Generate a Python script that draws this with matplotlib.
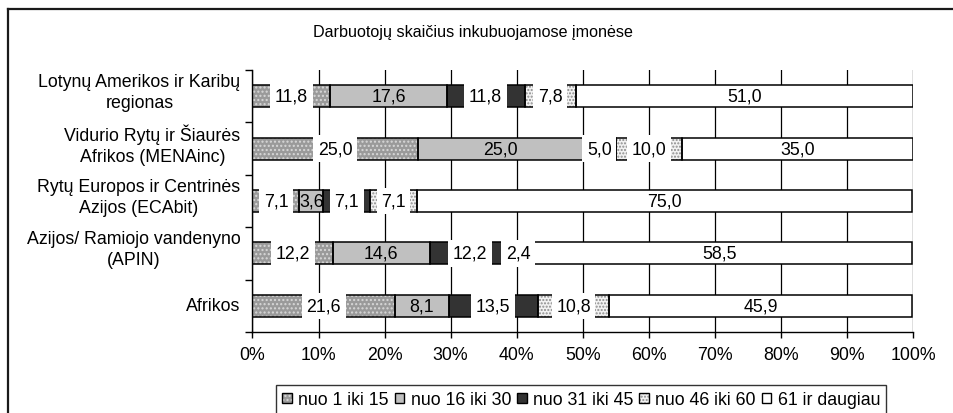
import matplotlib
matplotlib.use('Agg')
import matplotlib.pyplot as plt
import matplotlib.transforms as mtransforms
from matplotlib.patches import Patch
from matplotlib.legend_handler import HandlerTuple
from matplotlib.lines import Line2D

plt.rcParams['font.family'] = ['Liberation Sans', 'DejaVu Sans']
plt.rcParams['hatch.linewidth'] = 1.0

title = 'Darbuotojų skaičius inkubuojamose įmonėse'
regions = [
    'Lotynų Amerikos ir Karibų\nregionas',
    'Vidurio Rytų ir Šiaurės\nAfrikos (MENAinc)',
    'Rytų Europos ir Centrinės\nAzijos (ECAbit)',
    'Azijos/ Ramiojo vandenyno\n(APIN)',
    'Afrikos',
]
series_names = ['nuo 1 iki 15', 'nuo 16 iki 30', 'nuo 31 iki 45',
                'nuo 46 iki 60', '61 ir daugiau']
nuo_1_15 = [11.8, 25.0, 7.1, 12.2, 21.6]
nuo_16_30 = [17.6, 25.0, 3.6, 14.6, 8.1]
nuo_31_45 = [11.8, 5.0, 7.1, 12.2, 13.5]
nuo_46_60 = [7.8, 10.0, 7.1, 2.4, 10.8]
virs_61 = [51.0, 35.0, 75.0, 58.5, 45.9]
series_values = [nuo_1_15, nuo_16_30, nuo_31_45, nuo_46_60, virs_61]
x_ticks = [0, 10, 20, 30, 40, 50, 60, 70, 80, 90, 100]

# fill colour, hatch, hatch colour, whether the value label gets a white box
styles = [
    ('#9a9a9a', '....', '#d8d8d8', True),
    ('#c0c0c0', None, '#c0c0c0', False),
    ('#333333', None, '#333333', True),
    ('#f2f2f2', '.....', '#8c8c8c', True),
    ('#ffffff', None, '#ffffff', False),
]

FS = 12.8
fig = plt.figure(figsize=(9.54, 4.14), dpi=100)
W, H = 954, 414
ax = fig.add_axes([252.5 / W, 1 - 333 / H, (913 - 252.5) / W, (333 - 71) / H])

n = len(regions)
ypos = [n - 1 - i for i in range(n)]
bar_h = 0.42
lefts = [0.0] * n
for vals, (fc, hatch, hc, boxed) in zip(series_values, styles):
    ax.barh(ypos, vals, left=lefts, height=bar_h, color=fc, hatch=hatch,
            edgecolor=hc, linewidth=0, zorder=2)
    ax.barh(ypos, vals, left=lefts, height=bar_h, fill=False,
            edgecolor='black', linewidth=1.1, zorder=2.2)
    for y, l, v in zip(ypos, lefts, vals):
        kw = {}
        if boxed:
            kw['bbox'] = dict(boxstyle='square,pad=0.26', fc='white', ec='none')
        ax.text(l + v / 2, y, f'{v:.1f}'.replace('.', ','), ha='center',
                va='center', fontsize=FS, zorder=3, **kw)
    lefts = [a + b for a, b in zip(lefts, vals)]

ax.set_xlim(0, 100)
ax.set_ylim(-0.5, n - 0.5)
ax.set_xticks(x_ticks)
ax.set_xticklabels([f'{t}%' for t in x_ticks], fontsize=FS)

# category names, drawn beside the axis; two-line names sit a little high
ax.set_yticks(ypos)
ax.set_yticklabels([])
base = ax.get_yaxis_transform()
for y, name in zip(ypos, regions):
    dy = 4 if '\n' in name else 0
    off = mtransforms.ScaledTranslation(-12 / 100, dy / 100, fig.dpi_scale_trans)
    ax.text(0, y, name, transform=base + off, ha='right', va='center',
            multialignment='center', linespacing=1.3, fontsize=FS)

ax.set_yticks([i - 0.5 for i in range(n + 1)], minor=True)
ax.tick_params(axis='y', which='major', length=0)
ax.tick_params(axis='y', which='minor', length=5, width=1, direction='out')
ax.tick_params(axis='x', length=4, width=1, direction='out', pad=6)
ax.set_axisbelow(True)
ax.xaxis.grid(True, color='black', linewidth=0.9)
for side in ('top', 'right'):
    ax.spines[side].set_visible(False)
for side in ('left', 'bottom'):
    ax.spines[side].set_linewidth(1.0)
    ax.spines[side].set_color('black')

fig.text(473 / W, 1 - 33 / H, title, ha='center', va='center', fontsize=11.6)

handles = []
for fc, hatch, hc, _ in styles:
    handles.append((Patch(facecolor=fc, hatch=hatch, edgecolor=hc, linewidth=0),
                    Patch(fill=False, edgecolor='black', linewidth=1.0)))
leg = fig.legend(handles, series_names, ncol=5, loc='upper left',
                 bbox_to_anchor=(276 / W, 1 - 386 / H), frameon=True,
                 fancybox=False, fontsize=FS, handlelength=0.55,
                 handleheight=0.55, handletextpad=0.35, columnspacing=0.33,
                 borderpad=0.35, borderaxespad=0,
                 handler_map={tuple: HandlerTuple(ndivide=1)})
leg.get_frame().set_edgecolor('black')
leg.get_frame().set_linewidth(1.0)

# chart border
fig.add_artist(Line2D([8 / W, 1.0], [1 - 10 / H, 1 - 10 / H], color='#1a1a1a',
                      linewidth=1.6, transform=fig.transFigure))
fig.add_artist(Line2D([8 / W, 8 / W], [0.0, 1 - 10 / H], color='#1a1a1a',
                      linewidth=1.6, transform=fig.transFigure))

fig.savefig('out.png', dpi=100, facecolor='white')
